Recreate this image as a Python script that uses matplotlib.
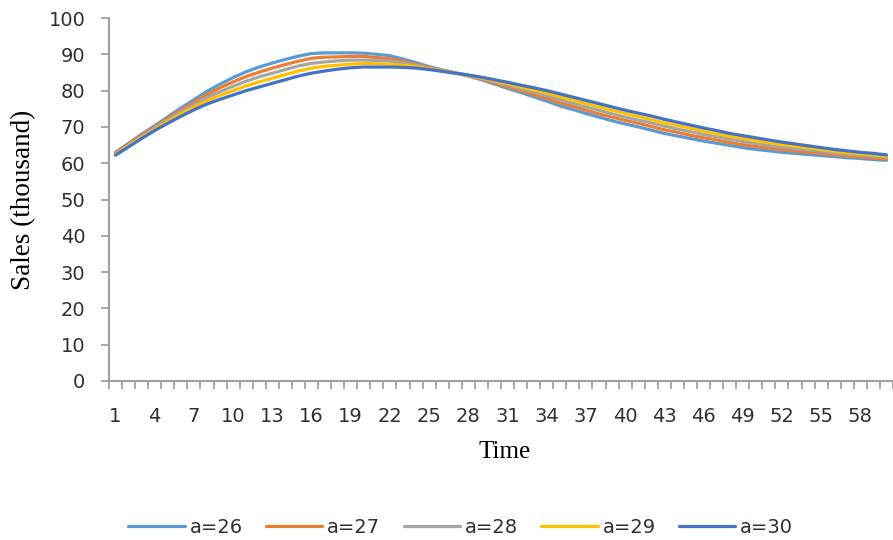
import numpy as np
import matplotlib
matplotlib.use("Agg")
import matplotlib.pyplot as plt
from matplotlib.ticker import FixedLocator, NullFormatter

# time steps 1..60
time = list(range(1, 61))

sales_a26 = [63.0, 65.5, 68.0, 70.3, 72.8, 75.2, 77.5, 79.8, 81.8, 83.6,
             85.2, 86.5, 87.6, 88.6, 89.5, 90.2, 90.4, 90.4, 90.4, 90.3,
             90.0, 89.6, 88.7, 87.7, 86.6, 85.7, 84.9, 84.0, 83.0, 81.8,
             80.6, 79.5, 78.3, 77.1, 75.8, 74.8, 73.7, 72.7, 71.7, 70.8,
             70.0, 69.1, 68.2, 67.5, 66.8, 66.1, 65.5, 64.9, 64.3, 63.8,
             63.4, 63.0, 62.7, 62.4, 62.1, 61.8, 61.5, 61.3, 61.0, 60.8]
sales_a27 = [62.8, 65.3, 67.7, 70.0, 72.4, 74.6, 76.8, 78.9, 80.8, 82.4,
             83.9, 85.1, 86.2, 87.2, 88.1, 88.9, 89.2, 89.3, 89.4, 89.4,
             89.1, 88.8, 88.1, 87.3, 86.4, 85.6, 84.9, 84.1, 83.2, 82.1,
             81.0, 80.0, 78.9, 77.8, 76.6, 75.7, 74.6, 73.6, 72.7, 71.8,
             71.0, 70.1, 69.2, 68.5, 67.7, 67.0, 66.4, 65.7, 65.1, 64.6,
             64.2, 63.7, 63.4, 63.0, 62.7, 62.3, 62.0, 61.7, 61.4, 61.2]
sales_a28 = [62.6, 65.0, 67.4, 69.7, 71.9, 74.1, 76.1, 78.1, 79.7, 81.2,
             82.6, 83.8, 84.8, 85.8, 86.8, 87.5, 87.9, 88.2, 88.4, 88.4,
             88.3, 88.1, 87.6, 87.0, 86.2, 85.5, 84.9, 84.2, 83.4, 82.4,
             81.5, 80.5, 79.6, 78.6, 77.5, 76.5, 75.5, 74.6, 73.6, 72.7,
             71.9, 71.1, 70.2, 69.4, 68.7, 67.9, 67.3, 66.6, 66.0, 65.4,
             64.9, 64.4, 64.0, 63.6, 63.2, 62.8, 62.5, 62.2, 61.9, 61.6]
sales_a29 = [62.4, 64.8, 67.1, 69.3, 71.5, 73.5, 75.4, 77.2, 78.7, 80.0,
             81.3, 82.4, 83.4, 84.4, 85.4, 86.2, 86.7, 87.0, 87.3, 87.5,
             87.4, 87.3, 87.0, 86.6, 86.0, 85.4, 84.8, 84.2, 83.5, 82.7,
             81.9, 81.0, 80.2, 79.3, 78.3, 77.4, 76.4, 75.5, 74.6, 73.7,
             72.9, 72.0, 71.1, 70.4, 69.6, 68.8, 68.1, 67.4, 66.8, 66.2,
             65.7, 65.1, 64.7, 64.2, 63.8, 63.3, 62.9, 62.6, 62.3, 61.9]
sales_a30 = [62.2, 64.5, 66.8, 69.0, 71.0, 72.9, 74.7, 76.3, 77.6, 78.8,
             80.0, 81.0, 82.0, 83.0, 84.0, 84.8, 85.4, 85.9, 86.3, 86.5,
             86.5, 86.5, 86.4, 86.2, 85.8, 85.3, 84.8, 84.3, 83.7, 83.0,
             82.3, 81.5, 80.8, 80.0, 79.1, 78.2, 77.3, 76.4, 75.5, 74.6,
             73.8, 73.0, 72.1, 71.3, 70.5, 69.7, 69.0, 68.2, 67.6, 67.0,
             66.4, 65.8, 65.3, 64.8, 64.3, 63.8, 63.4, 63.0, 62.7, 62.3]

series_labels = ["a=26", "a=27", "a=28", "a=29", "a=30"]
x_tick_labels = [str(t) for t in range(1, 61, 3)]

colors = ["#5B9BD5", "#ED7D31", "#A5A5A5", "#FFC000", "#4472C4"]
axis_gray = "#A0A0A0"
text_col = "#303030"

fig = plt.figure(figsize=(8.93, 5.40), dpi=100)
ax = fig.add_axes([109 / 893, 1 - 381 / 540, 784 / 893, (381 - 18) / 540])

all_series = [sales_a26, sales_a27, sales_a28, sales_a29, sales_a30]
for vals, lab, c in zip(all_series, series_labels, colors):
    ax.plot(time, vals, color=c, lw=2.3, label=lab, solid_capstyle="round")

ax.set_xlim(0.5, 60.5)
ax.set_ylim(0, 100)
ax.set_yticks(np.arange(0, 101, 10))

# tick marks between categories, labels on every third category
ax.xaxis.set_major_locator(FixedLocator(np.arange(0.5, 61, 1)))
ax.xaxis.set_major_formatter(NullFormatter())
ax.set_xticks(range(1, 61, 3), labels=x_tick_labels, minor=True)
ax.tick_params(axis="x", which="major", direction="out", length=6,
               width=1.3, color=axis_gray)
ax.tick_params(axis="x", which="minor", length=0, pad=19,
               labelsize=14, labelcolor=text_col)
ax.tick_params(axis="y", direction="out", length=6, width=1.3,
               color=axis_gray, pad=11, labelsize=14, labelcolor=text_col)

for side in ["top", "right"]:
    ax.spines[side].set_visible(False)
for side in ["left", "bottom"]:
    ax.spines[side].set_color(axis_gray)
    ax.spines[side].set_linewidth(1.5)

ax.set_xlabel("Time", family="Liberation Serif", fontsize=18, color="black")
ax.set_ylabel("Sales (thousand)", family="Liberation Serif", fontsize=19.5,
              color="black")
ax.xaxis.set_label_coords(0.505, -0.165)
ax.yaxis.set_label_coords(-0.093, 0.5)

fig.legend(loc="center", bbox_to_anchor=(0.516, 0.024), ncol=5,
           frameon=False, fontsize=14, handlelength=2.9,
           handletextpad=0.25, columnspacing=1.2, labelcolor=text_col)

fig.savefig("out.png", dpi=100)
